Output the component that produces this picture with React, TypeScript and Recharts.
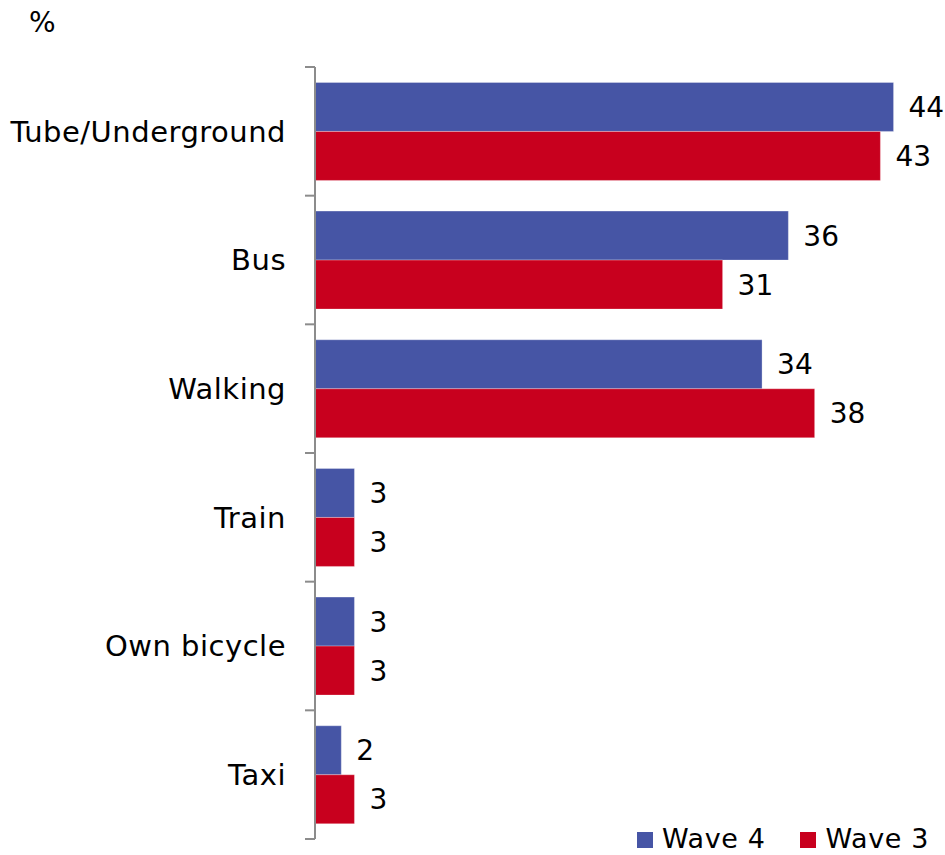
import React from "react";
import { BarChart, Bar, XAxis, YAxis, LabelList, Legend } from "recharts";

const categories = ["Tube/Underground", "Bus", "Walking", "Train", "Own bicycle", "Taxi"];
const wave4 = [44, 36, 34, 3, 3, 2];
const wave3 = [43, 31, 38, 3, 3, 3];
const seriesNames = ["Wave 4", "Wave 3"];

const data = categories.map((name, i) => ({ name, w4: wave4[i], w3: wave3[i] }));

const FONT = "'DejaVu Sans', Verdana, sans-serif";
const AXIS_COLOR = "#8c8c8c";
const BLUE = "#4655a5";
const RED = "#c8001e";

const CHART_H = 855;
const MARGIN_TOP = 67;
const MARGIN_BOTTOM = 16;
const FALLBACK_HALF = (CHART_H - MARGIN_TOP - MARGIN_BOTTOM) / categories.length / 2;

function CategoryTick(props: any) {
  const { x, y, payload, index, visibleTicksCount } = props;
  const half = payload && typeof payload.offset === "number" && payload.offset > 0 ? payload.offset : FALLBACK_HALF;
  const last = index === (visibleTicksCount ?? categories.length) - 1;
  return (
    <g>
      <line x1={x - 10} x2={x} y1={y - half} y2={y - half} stroke={AXIS_COLOR} strokeWidth={2} />
      {last && <line x1={x - 10} x2={x} y1={y + half} y2={y + half} stroke={AXIS_COLOR} strokeWidth={2} />}
      <text x={x - 29} y={y} dy="0.36em" textAnchor="end" fontSize={29} letterSpacing={0.5} fontFamily={FONT} fill="#000">
        {payload.value}
      </text>
    </g>
  );
}

function LegendContent() {
  const items = [
    { name: seriesNames[0], color: BLUE },
    { name: seriesNames[1], color: RED },
  ];
  return (
    <div style={{ display: "flex", alignItems: "flex-start", fontFamily: FONT, fontSize: 27, lineHeight: "27px", letterSpacing: 0.6, color: "#000" }}>
      {items.map((it, i) => (
        <div key={it.name} style={{ display: "flex", alignItems: "flex-start", marginRight: i === 0 ? 35 : 0 }}>
          <div style={{ width: 16, height: 16, background: it.color, marginTop: 7, marginRight: 9 }} />
          <span style={{ whiteSpace: "nowrap" }}>{it.name}</span>
        </div>
      ))}
    </div>
  );
}

export default function App() {
  return (
    <div style={{ position: "absolute", left: 0, top: 0, width: 945, height: 855, background: "#fff" }}>
      <div style={{ position: "absolute", left: 29, top: 9, fontFamily: FONT, fontSize: 28, lineHeight: "28px", color: "#000" }}>%</div>
      <BarChart
        width={945}
        height={CHART_H}
        data={data}
        layout="vertical"
        margin={{ top: MARGIN_TOP, right: 12, bottom: MARGIN_BOTTOM, left: 0 }}
        barCategoryGap="12%"
        barGap={0}
      >
        <XAxis type="number" domain={[0, 47]} hide />
        <YAxis
          type="category"
          dataKey="name"
          width={315}
          axisLine={{ stroke: AXIS_COLOR, strokeWidth: 2 }}
          tickLine={false}
          tickSize={0}
          tickMargin={0}
          tick={<CategoryTick />}
          interval={0}
        />
        <Legend
          layout="vertical"
          align="center"
          verticalAlign="middle"
          content={<LegendContent />}
          wrapperStyle={{ left: 637, top: 825, width: 305 }}
        />
        <Bar dataKey="w4" name={seriesNames[0]} fill={BLUE} stroke="rgba(255,255,255,0.3)" strokeWidth={1} isAnimationActive={false}>
          <LabelList dataKey="w4" position="right" offset={15} fill="#000" fontSize={28} fontFamily={FONT} />
        </Bar>
        <Bar dataKey="w3" name={seriesNames[1]} fill={RED} stroke="rgba(255,255,255,0.3)" strokeWidth={1} isAnimationActive={false}>
          <LabelList dataKey="w3" position="right" offset={15} fill="#000" fontSize={28} fontFamily={FONT} />
        </Bar>
      </BarChart>
    </div>
  );
}
